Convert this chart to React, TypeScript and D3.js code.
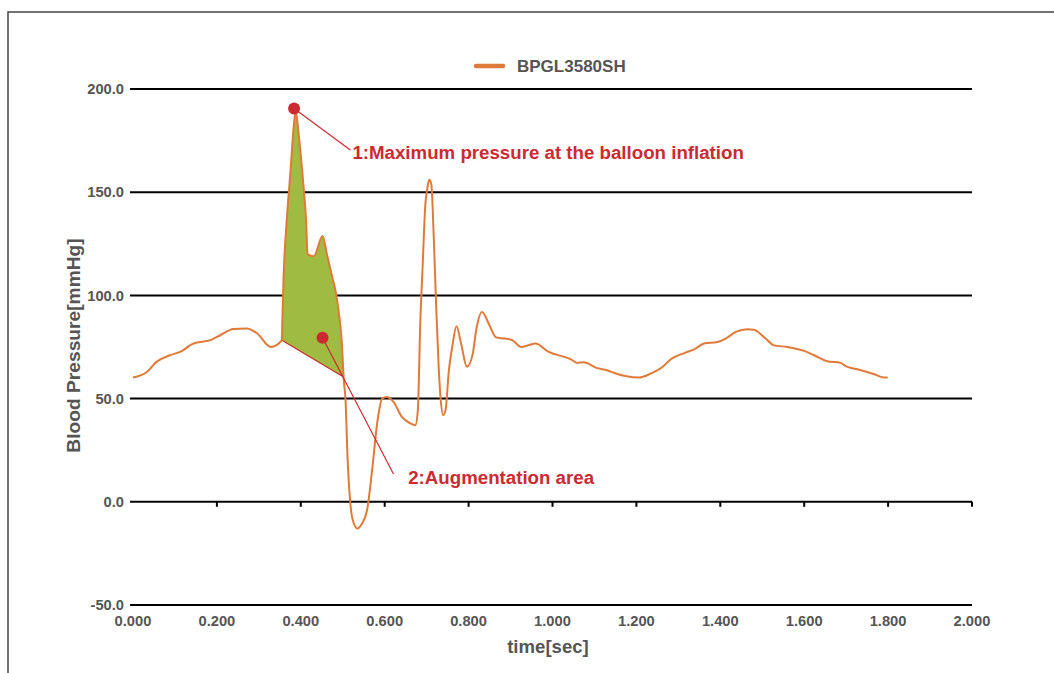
import * as d3 from 'd3'

const W = 1054
const H = 673

// pressure trace: [time sec, pressure mmHg]
const trace: [number, number][] = [
  [0, 60.2], [0.033, 62.9], [0.056, 67.8], [0.088, 71], [0.116, 73], [0.14, 76.3],
  [0.188, 78.6], [0.208, 80.7], [0.239, 83.7], [0.271, 84], [0.295, 81.8], [0.329, 75],
  [0.355, 78.3], [0.356, 88], [0.359, 108.9], [0.367, 138], [0.375, 159], [0.383, 181.5],
  [0.388, 189.5], [0.39, 187], [0.398, 171.8], [0.406, 154], [0.413, 134.7], [0.416, 120],
  [0.431, 119], [0.452, 128.8], [0.462, 120.2], [0.474, 109.7], [0.484, 101], [0.492, 89.5],
  [0.498, 76.7], [0.502, 60.5], [0.507, 47.8], [0.511, 23.6], [0.518, -0.6], [0.524, -8.9],
  [0.535, -12.9], [0.546, -10.5], [0.558, -4], [0.57, 15.3], [0.582, 38], [0.594, 50],
  [0.605, 50.8], [0.621, 48.4], [0.641, 41.1], [0.661, 38], [0.673, 37.1], [0.679, 44.4],
  [0.685, 88], [0.69, 112], [0.697, 144.4], [0.701, 151], [0.706, 156], [0.711, 154],
  [0.717, 128], [0.723, 92.8], [0.729, 63.7], [0.733, 50.8], [0.739, 42], [0.745, 44.4],
  [0.753, 63.7], [0.761, 75], [0.771, 85], [0.782, 76.7], [0.796, 65.4], [0.81, 71.8],
  [0.818, 83.1], [0.832, 92], [0.848, 86.3], [0.866, 79.6], [0.886, 79.1], [0.904, 78.3],
  [0.926, 75], [0.959, 76.7], [0.991, 72.6], [1.043, 69.1], [1.059, 67.3], [1.075, 67.6],
  [1.103, 65], [1.135, 63.4], [1.146, 62.5], [1.206, 60.2], [1.234, 62.1], [1.262, 65.3],
  [1.282, 69.1], [1.317, 72.3], [1.339, 74], [1.361, 76.7], [1.393, 77.4], [1.413, 79.1],
  [1.437, 82.3], [1.465, 83.6], [1.48, 83.4], [1.508, 79.1], [1.528, 75.8], [1.56, 75],
  [1.6, 73.1], [1.624, 71], [1.655, 68.1], [1.687, 67.3], [1.699, 65.7], [1.727, 64.2],
  [1.767, 61.8], [1.791, 60.2], [1.799, 60.2],
]

// augmentation area spans this time window of the trace
const augStart = 0.355
const augEnd = 0.502

const xTicks = [0, 0.2, 0.4, 0.6, 0.8, 1.0, 1.2, 1.4, 1.6, 1.8, 2.0]
const yTicks = [200, 150, 100, 50, 0, -50]

const seriesName = 'BPGL3580SH'

// annotations: dot, leader-line end and label start, all in data units
const notes = [
  { text: '1:Maximum pressure at the balloon inflation', dot: [0.384, 190.6], end: [0.518, 170.4], label: [0.523, 165.9] },
  { text: '2:Augmentation area', dot: [0.4518, 79.5], end: [0.621, 13.5], label: [0.656, 8.6] },
]

const ORANGE = '#e07a38'
const GREEN = '#a0bb41'
const RED = '#cc2a30'
const GREY = '#555'
const FONT = "'Liberation Sans', Arial, sans-serif"

const fmtY = (v: number) => d3.format('.1f')(v).replace('\u2212', '-')
const fmtX = d3.format('.3f')

export default function App() {
  const x = d3.scaleLinear().domain([0, 2]).range([133, 972])
  const y = d3.scaleLinear().domain([-50, 200]).range([605, 89])

  const line = d3.line<[number, number]>()
    .x(d => x(d[0]))
    .y(d => y(d[1]))
    .curve(d3.curveMonotoneX)

  const aug = trace.filter(d => d[0] >= augStart && d[0] <= augEnd)
  const a0 = aug[0]
  const a1 = aug[aug.length - 1]

  return (
    <svg width={W} height={H} style={{ position: 'absolute', left: 0, top: 0 }} fontFamily={FONT}>
      <rect width={W} height={H} fill="#fff" />
      <path d={`M8,${H}V12H${W}`} fill="none" stroke="#444" strokeWidth={1.5} />

      {/* legend */}
      <line x1={476} x2={503} y1={66} y2={66} stroke={ORANGE} strokeWidth={4.5} strokeLinecap="round" />
      <text x={517} y={72} fontSize={17} fontWeight="bold" fill={GREY}>{seriesName}</text>

      {/* horizontal grid */}
      {yTicks.map(v => (
        <g key={v}>
          <line x1={130} x2={x(2)} y1={y(v)} y2={y(v)} stroke="#000" strokeWidth={2} />
          <text x={124} y={y(v)} dy="0.36em" textAnchor="end" fontSize={14.7} fontWeight="bold" fill={GREY}>
            {fmtY(v)}
          </text>
        </g>
      ))}

      {/* ticks on zero line */}
      {xTicks.filter(t => t > 0).map(t => (
        <line key={t} x1={x(t)} x2={x(t)} y1={y(0)} y2={y(0) + 5} stroke="#000" strokeWidth={2} />
      ))}
      {xTicks.map(t => (
        <text key={t} x={x(t)} y={626} textAnchor="middle" fontSize={14.7} fontWeight="bold" fill={GREY}>
          {fmtX(t)}
        </text>
      ))}

      <text x={548} y={653} textAnchor="middle" fontSize={18.6} fontWeight="bold" fill={GREY}>time[sec]</text>
      <text transform="translate(80,345.5) rotate(-90)" textAnchor="middle" fontSize={19.2} fontWeight="bold" fill={GREY}>
        Blood Pressure[mmHg]
      </text>

      {/* augmentation area */}
      <path d={line(aug) + 'Z'} fill={GREEN} stroke="none" />
      <line x1={x(a0[0])} y1={y(a0[1])} x2={x(a1[0])} y2={y(a1[1])} stroke={RED} strokeWidth={1.2} />

      <path d={line(trace) ?? ''} fill="none" stroke={ORANGE} strokeWidth={2} strokeLinejoin="round" />

      {notes.map(n => (
        <g key={n.text}>
          <line x1={x(n.dot[0])} y1={y(n.dot[1])} x2={x(n.end[0])} y2={y(n.end[1])} stroke={RED} strokeWidth={1.2} />
          <circle cx={x(n.dot[0])} cy={y(n.dot[1])} r={6} fill={RED} />
          <text x={x(n.label[0])} y={y(n.label[1])} fontSize={18.7} fontWeight="bold" fill={RED}>{n.text}</text>
        </g>
      ))}
    </svg>
  )
}
